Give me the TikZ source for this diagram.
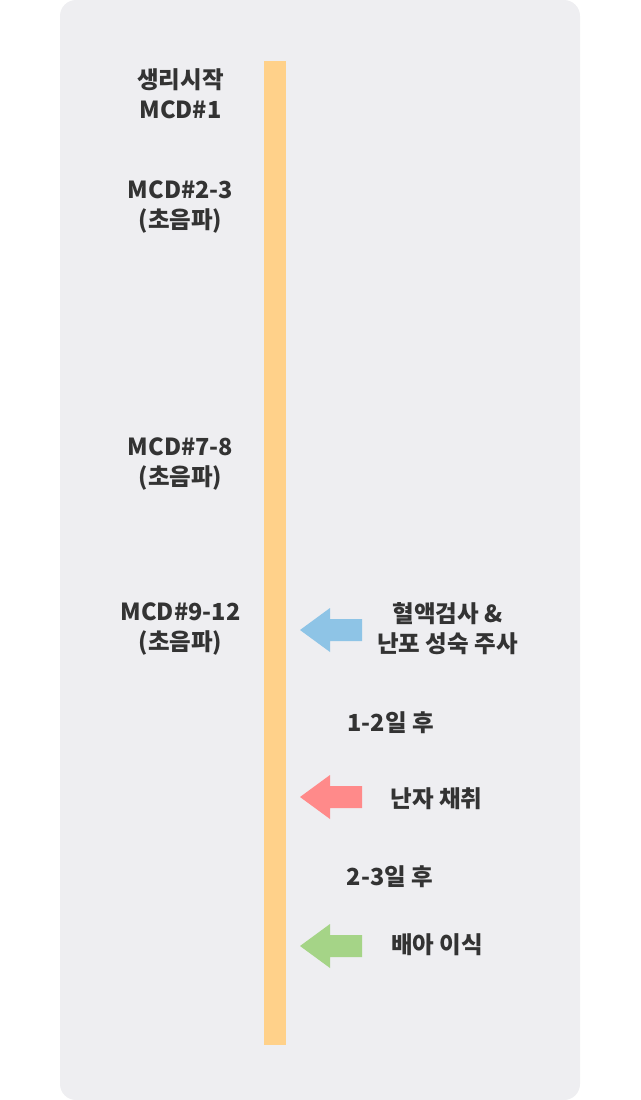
\documentclass[tikz,border=0pt]{standalone}
\usepackage{fontspec}
\setmainfont{Noto Sans CJK KR}
\definecolor{panelgray}{HTML}{EEEEF1}
\definecolor{bargold}{HTML}{FFD18A}
\definecolor{textgray}{HTML}{333333}
\definecolor{skyblue}{HTML}{8EC4E6}
\definecolor{salmon}{HTML}{FF8A8A}
\definecolor{leafgreen}{HTML}{A5D487}

\begin{document}
\begin{tikzpicture}[x=1pt,y=-1pt,
    lbl/.style={font=\fontsize{23.5}{30}\selectfont\bfseries, text=textgray, align=center, inner sep=0pt}]
        \useasboundingbox (0,0) rectangle (640,1100);
        \fill[panelgray, rounded corners=16pt] (60,0) rectangle (580,1100);
        \fill[bargold] (264,61) rectangle (286,1045);
        % arrows pointing at the bar
        \fill[skyblue] (300,630) -- (330,608) -- (330,619) -- (362,619) -- (362,641) -- (330,641) -- (330,652) -- cycle;
        \fill[salmon] (300,797) -- (330,775) -- (330,786) -- (362,786) -- (362,808) -- (330,808) -- (330,819) -- cycle;
        \fill[leafgreen] (300,946) -- (330,924) -- (330,935) -- (362,935) -- (362,957) -- (330,957) -- (330,968) -- cycle;
        % left side
        \node[lbl] (start) at (180.5,94) {생리시작\\MCD\#1};
        \node[lbl] (mcdA) at (180.5,207) {MCD\#2-3\\(초음파)};
        \node[lbl] (mcdB) at (180.5,464) {MCD\#7-8\\(초음파)};
        \node[lbl] (mcdC) at (180.5,628.5) {MCD\#9-12\\(초음파)};
        % right side
        \node[lbl] (inject) at (447.5,629) {혈액검사 \&\\난포 성숙 주사};
        \node[lbl] (waitA) at (390.5,723) {1-2일 후};
        \node[lbl] (retrieval) at (436.5,799) {난자 채취};
        \node[lbl] (waitB) at (390,877) {2-3일 후};
        \node[lbl] (transfer) at (437,945) {배아 이식};
    \end{tikzpicture}
\end{document}
